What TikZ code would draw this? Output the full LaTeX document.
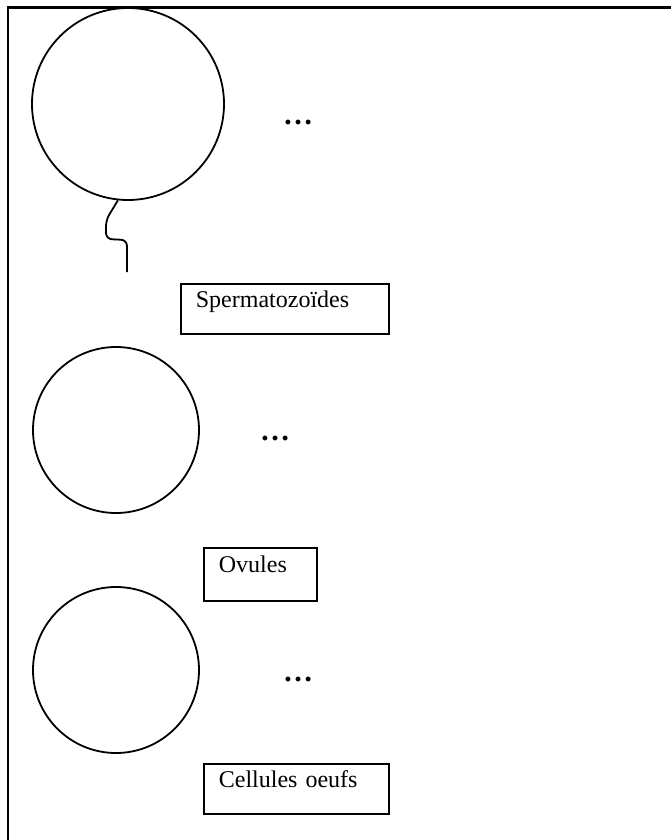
\documentclass[tikz,border=0pt]{standalone}
\usepackage{fontspec}
\setmainfont{Liberation Serif}
\usepackage{tikz}

\begin{document}
\begin{tikzpicture}[x = .5pt, y = -.5pt,
    cell/.style = {circle, draw, line width=.9pt, inner sep=0pt},
    labelbox/.style = {draw, line width=.9pt, anchor=north west, inner xsep=7.5pt, inner ysep=0pt,
      text height=12pt, text depth=13pt, text width=#1, align=left,
      font=\fontsize{12}{14}\selectfont},
    etc/.style = {font=\fontsize{15}{18}\selectfont\bfseries}]
        \useasboundingbox (0,0) rectangle (671,840);
        \draw[line width=1.1pt] (8,840) -- (8,7.5) -- (671,7.5);
        % spermatozoide
        \node[cell, minimum size=96pt] (sperm) at (128,104) {};
        \draw[line width=.9pt, rounded corners=3pt] (sperm.-96) -- (106,220) -- (106,239) -- (127,240) -- (127,272);
        \node[etc] (dots1) at (298,122) {…};
        \node[labelbox=89pt] (lsperm) at (180,283) {Spermatozoïdes};
        % ovule
        \node[cell, minimum size=83pt] (ovule) at (116,430) {};
        \node[etc] (dots2) at (275,438) {…};
        \node[labelbox=41.5pt, text height=12.5pt, text depth=14pt] (lovule) at (203,547) {Ovules};
        % cellule oeuf
        \node[cell, minimum size=83pt] (oeuf) at (116,670) {};
        \node[etc] (dots3) at (298,679) {…};
        \node[labelbox=77.5pt] (loeuf) at (203,763) {Cellules oeufs};
      \end{tikzpicture}
\end{document}
